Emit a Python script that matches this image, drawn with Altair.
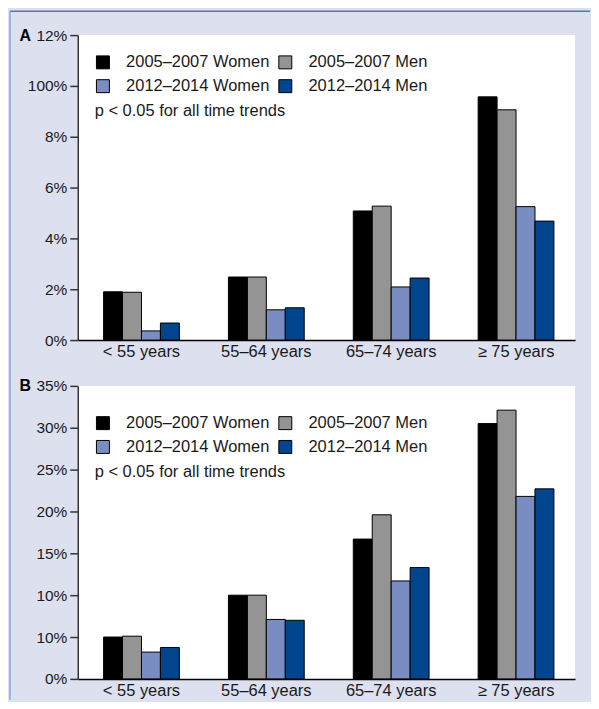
import altair as alt
import pandas as pd

age_groups = ["< 55 years", "55–64 years", "65–74 years", "≥ 75 years"]
series = ["2005–2007 Women", "2005–2007 Men", "2012–2014 Women", "2012–2014 Men"]
colors = ["#000000", "#949494", "#7a8dc2", "#02458f"]
note = "p < 0.05 for all time trends"

# Panel A values (%) per series, in age-group order
a_women_0507 = [1.90, 2.48, 5.08, 9.57]
a_men_0507 = [1.88, 2.48, 5.27, 9.06]
a_women_1214 = [0.36, 1.19, 2.09, 5.25]
a_men_1214 = [0.67, 1.27, 2.44, 4.68]
a_ticks = [0, 2, 4, 6, 8, 10, 12]
a_tick_labels = ["0%", "2%", "4%", "6%", "8%", "100%", "12%"]

# Panel B values (%) per series, in age-group order
b_women_0507 = [5.0, 10.0, 16.7, 30.5]
b_men_0507 = [5.1, 10.0, 19.6, 32.1]
b_women_1214 = [3.2, 7.1, 11.7, 21.8]
b_men_1214 = [3.75, 7.0, 13.3, 22.7]
b_ticks = [0, 5, 10, 15, 20, 25, 30, 35]
b_tick_labels = ["0%", "10%", "10%", "15%", "20%", "25%", "30%", "35%"]

FONT = "Liberation Sans, Arial, sans-serif"
TEXT = "#1a1a1a"

# legend is laid out column by column: Women in column 1, Men in column 2
legend_order = [0, 2, 1, 3]
legend_domain = [series[i] for i in legend_order]
legend_range = [colors[i] for i in legend_order]


def make_df(vals_list):
    rows = []
    for s, vals in zip(series, vals_list):
        for g, v in zip(age_groups, vals):
            rows.append({"age": g, "series": s, "value": v})
    return pd.DataFrame(rows)


def label_expr(vals, labs):
    return " : ".join(f"datum.value == {v} ? '{l}'" for v, l in zip(vals, labs)) + " : ''"


def panel(df, letter, ticks, labels, ymax, height, legend_y):
    return alt.Chart(df).mark_bar(stroke="#000000", strokeWidth=1).encode(
        x=alt.X("age:N", sort=age_groups,
                scale=alt.Scale(paddingInner=0.393, paddingOuter=0.188, align=0.55),
                axis=alt.Axis(title="", labelAngle=0, ticks=False, labelFontSize=16.5,
                              labelPadding=4, labelColor=TEXT, domainColor="#000000",
                              domainWidth=1.5, labelFont=FONT)),
        xOffset=alt.XOffset("series:N", sort=series,
                            scale=alt.Scale(paddingInner=0, paddingOuter=0)),
        y=alt.Y("value:Q",
                scale=alt.Scale(domain=[0, ymax], nice=False),
                axis=alt.Axis(values=ticks, labelExpr=label_expr(ticks, labels),
                              grid=False, tickSize=8, tickColor="#333333", tickWidth=1.5,
                              domainColor="#333333", domainWidth=1.5,
                              labelFontSize=15.5, labelPadding=3, labelColor=TEXT,
                              labelFont=FONT,
                              title=letter, titleAngle=0, titleX=-59, titleY=0,
                              titleAlign="left", titleBaseline="middle",
                              titleFontWeight="bold", titleFontSize=16, titleColor="#000000",
                              titleFont=FONT)),
        color=alt.Color("series:N",
                        scale=alt.Scale(domain=legend_domain, range=legend_range),
                        legend=alt.Legend(orient="none", legendX=17, legendY=legend_y,
                                          columns=2, symbolType="square", symbolSize=169,
                                          symbolStrokeColor="#000000", symbolStrokeWidth=1,
                                          symbolOpacity=1,
                                          labelFontSize=16.5, labelFont=FONT,
                                          labelColor=TEXT, labelOffset=15, labelLimit=300,
                                          columnPadding=6, rowPadding=6,
                                          title=note, titleOrient="bottom", titleLimit=400,
                                          titleAnchor="start", titleFontWeight="normal",
                                          titleFontSize=16.5, titleFont=FONT,
                                          titleColor=TEXT, titlePadding=8,
                                          padding=0)),
    ).properties(width=499, height=height)


frame = pd.DataFrame({"edge": ["frame"]})
top_line = alt.Chart(frame).mark_rule(color="#4a7bbf", strokeWidth=1.5).encode(
    x=alt.value(-68), x2=alt.value(514), y=alt.value(-24))
left_line = alt.Chart(frame).mark_rule(color="#5b8fd6", strokeWidth=1).encode(
    x=alt.value(-68), y=alt.value(-24), y2=alt.value(667))

chart_a = alt.layer(
    panel(make_df([a_women_0507, a_men_0507, a_women_1214, a_men_1214]),
          "A", a_ticks, a_tick_labels, 12, 306, 19),
    top_line, left_line,
)
chart_b = panel(make_df([b_women_0507, b_men_0507, b_women_1214, b_men_1214]),
                "B", b_ticks, b_tick_labels, 35, 294, 29)

chart = alt.vconcat(chart_a, chart_b, spacing=46, bounds="flush").resolve_scale(
    color="independent"
).resolve_legend(color="independent").properties(
    background="#dde0ee",
    padding={"left": 1, "top": 1, "right": 0, "bottom": 0},
).configure_view(fill="white", strokeWidth=0)

chart.save("out.html", embed_options={"renderer": "svg", "actions": False})
